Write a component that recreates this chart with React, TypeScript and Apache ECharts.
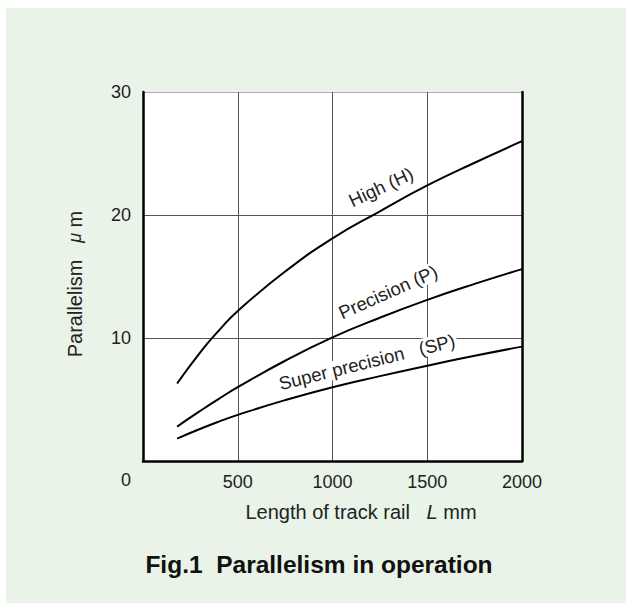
import React, { useEffect, useRef } from "react";
import * as echarts from "echarts";

// Length of track rail L (mm)
const lengths = [180, 300, 400, 500, 750, 1000, 1250, 1500, 1750, 2000];
// Parallelism (µm)
const highH = [6.3, 8.8, 10.6, 12.2, 15.4, 18.1, 20.3, 22.4, 24.25, 26.0];
const precisionP = [2.8, 4.05, 5.05, 6.0, 8.15, 10.05, 11.65, 13.1, 14.4, 15.6];
const superPrecisionSP = [1.82, 2.6, 3.2, 3.75, 4.95, 6.0, 6.9, 7.75, 8.55, 9.3];

const xTicks = [0, 500, 1000, 1500, 2000];
const yTicks = [0, 10, 20, 30];

const FONT = "'Liberation Sans', Arial, Helvetica, sans-serif";
const TXT = "#222";

const pairs = (ys: number[]) => lengths.map((x, i) => [x, ys[i]]);

export default function App() {
  const ref = useRef<HTMLDivElement>(null);
  useEffect(() => {
    if (!ref.current) return;
    const chart = echarts.init(ref.current, null, { renderer: "svg" });
    const lineSeries = (name: string, ys: number[]) => ({
      name,
      type: "line",
      data: pairs(ys),
      smooth: 0.5,
      symbol: "none",
      z: 3,
      lineStyle: { color: "#000", width: 2 },
      xAxisIndex: 0,
      yAxisIndex: 0,
    });
    const label = (text: string, x: number, y: number, deg: number) => ({
      type: "text",
      x,
      y,
      rotation: (deg * Math.PI) / 180,
      z: 1,
      style: {
        text,
        fill: TXT,
        font: `18.5px ${FONT}`,
        textAlign: "center",
        textVerticalAlign: "middle",
        backgroundColor: "#fff",
        padding: [0, 2],
      },
    });
    chart.setOption({
      animation: false,
      backgroundColor: "transparent",
      grid: {
        left: 143,
        top: 92,
        right: 104,
        bottom: 142,
        show: true,
        backgroundColor: "#fff",
        borderWidth: 0,
      },
      xAxis: {
        type: "value",
        min: xTicks[0],
        max: xTicks[xTicks.length - 1],
        interval: 500,
        axisLine: { show: true, lineStyle: { color: "#000", width: 2.5 } },
        axisTick: { show: false },
        axisLabel: {
          margin: 12,
          fontSize: 18,
          color: TXT,
          fontFamily: FONT,
          formatter: (v: number) => (v === 0 ? "" : String(v)),
        },
        splitLine: { show: true, lineStyle: { color: "#555", width: 1 } },
      },
      yAxis: [
        {
          type: "value",
          min: yTicks[0],
          max: yTicks[yTicks.length - 1],
          interval: 10,
          axisLine: { show: true, onZero: false, lineStyle: { color: "#000", width: 2.5 } },
          axisTick: { show: false },
          axisLabel: {
            margin: 12,
            fontSize: 18,
            color: TXT,
            fontFamily: FONT,
            formatter: (v: number) => (v === 0 ? "" : String(v)),
          },
          splitLine: {
            show: true,
            lineStyle: { color: ["#555", "#555", "#555", "#aaa"], width: 1 },
          },
        },
        {
          type: "value",
          min: 0,
          max: 30,
          interval: 10,
          position: "right",
          axisLine: { show: true, onZero: false, lineStyle: { color: "#000", width: 2.5 } },
          axisTick: { show: false },
          axisLabel: { show: false },
          splitLine: { show: false },
        },
      ],
      series: [
        lineSeries("High (H)", highH),
        lineSeries("Precision (P)", precisionP),
        lineSeries("Super precision (SP)", superPrecisionSP),
      ],
      graphic: [
        label("High (H)", 381, 187, 25),
        label("Precision (P)", 388, 292, 24),
        label("Super precision   (SP)", 367, 362, 14),
        {
          type: "text",
          x: 126,
          y: 480,
          style: {
            text: "0",
            fill: TXT,
            font: `18px ${FONT}`,
            textAlign: "center",
            textVerticalAlign: "middle",
          },
        },
        {
          type: "text",
          x: 361,
          y: 512,
          style: {
            text: "Length of track rail   {i|L} mm",
            fill: TXT,
            font: `20px ${FONT}`,
            textAlign: "center",
            textVerticalAlign: "middle",
            rich: {
              i: { fontStyle: "italic", fontSize: 20, fontFamily: FONT, fill: TXT },
            },
          },
        },
        {
          type: "text",
          x: 75,
          y: 284,
          rotation: Math.PI / 2,
          style: {
            text: "Parallelism   {i|μ} m",
            fill: TXT,
            font: `20px ${FONT}`,
            textAlign: "center",
            textVerticalAlign: "middle",
            rich: {
              i: { fontStyle: "italic", fontSize: 18, fontFamily: FONT, fill: TXT },
            },
          },
        },
        {
          type: "text",
          x: 319,
          y: 564,
          style: {
            text: "Fig.1  Parallelism in operation",
            fill: "#111",
            font: `bold 24.5px ${FONT}`,
            textAlign: "center",
            textVerticalAlign: "middle",
          },
        },
      ],
    });
    return () => chart.dispose();
  }, []);
  return (
    <div style={{ position: "absolute", left: 0, top: 0, width: 626, height: 603, background: "#fff" }}>
      <div
        style={{ position: "absolute", left: 6, top: 8, right: 0, bottom: 0, background: "#e9f3e8" }}
      />
      <div ref={ref} style={{ position: "absolute", left: 0, top: 0, width: 626, height: 603 }} />
    </div>
  );
}
